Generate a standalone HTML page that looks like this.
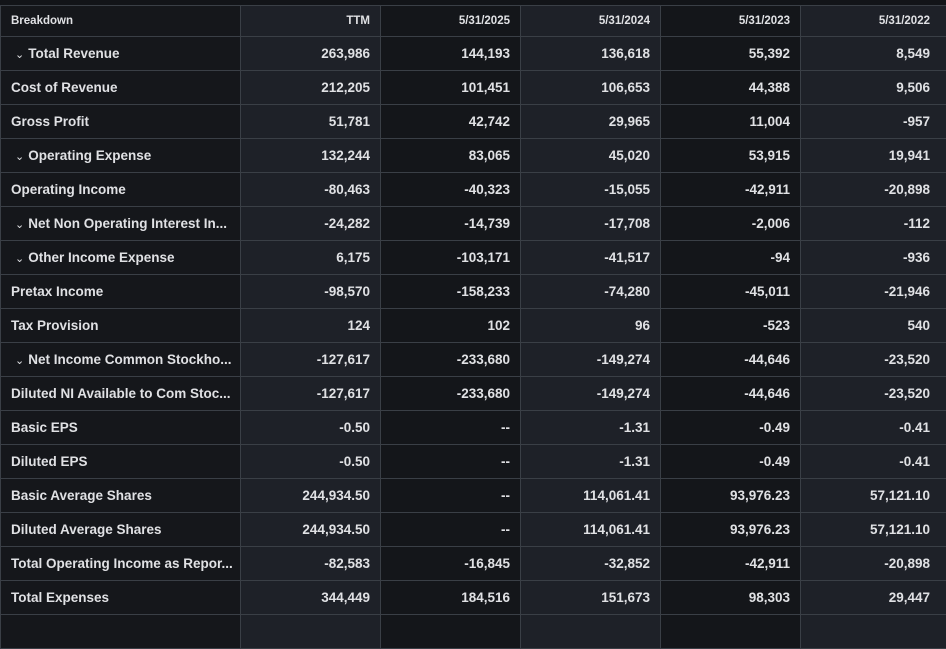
<!DOCTYPE html>
<html><head><meta charset="utf-8"><style>
html,body{margin:0;padding:0;background:#121418;width:946px;height:621px;overflow:hidden}
table{position:absolute;left:0;top:5px;border-collapse:collapse;table-layout:fixed;width:960px;font-family:"Liberation Sans",sans-serif;font-size:13.5px;color:#e0e1e4;font-weight:bold}
td{height:33px;padding:0 10px;border:1px solid #3a3f46;text-align:right;white-space:nowrap;overflow:hidden}
tr:first-child td{height:30px;font-size:11.5px}
td:nth-child(1){text-align:left;background:#15171b}
td:nth-child(2),td:nth-child(4),td:nth-child(6){background:#1e2128}
td:nth-child(3),td:nth-child(5){background:#14161a}
td:first-child{border-left:1px solid #3a3f46}
.c{font-weight:normal;font-size:11px;margin-left:4px;margin-right:4px}
</style></head><body>
<table>
<colgroup><col style="width:240px"><col style="width:140px"><col style="width:140px"><col style="width:140px"><col style="width:140px"><col style="width:160px"></colgroup>
<tr><td>Breakdown</td><td>TTM</td><td>5/31/2025</td><td>5/31/2024</td><td>5/31/2023</td><td style="padding-right:30px">5/31/2022</td></tr>
<tr><td><span class="c">⌄</span>Total Revenue</td><td>263,986</td><td>144,193</td><td>136,618</td><td>55,392</td><td style="padding-right:30px">8,549</td></tr>
<tr><td>Cost of Revenue</td><td>212,205</td><td>101,451</td><td>106,653</td><td>44,388</td><td style="padding-right:30px">9,506</td></tr>
<tr><td>Gross Profit</td><td>51,781</td><td>42,742</td><td>29,965</td><td>11,004</td><td style="padding-right:30px">-957</td></tr>
<tr><td><span class="c">⌄</span>Operating Expense</td><td>132,244</td><td>83,065</td><td>45,020</td><td>53,915</td><td style="padding-right:30px">19,941</td></tr>
<tr><td>Operating Income</td><td>-80,463</td><td>-40,323</td><td>-15,055</td><td>-42,911</td><td style="padding-right:30px">-20,898</td></tr>
<tr><td><span class="c">⌄</span>Net Non Operating Interest In...</td><td>-24,282</td><td>-14,739</td><td>-17,708</td><td>-2,006</td><td style="padding-right:30px">-112</td></tr>
<tr><td><span class="c">⌄</span>Other Income Expense</td><td>6,175</td><td>-103,171</td><td>-41,517</td><td>-94</td><td style="padding-right:30px">-936</td></tr>
<tr><td>Pretax Income</td><td>-98,570</td><td>-158,233</td><td>-74,280</td><td>-45,011</td><td style="padding-right:30px">-21,946</td></tr>
<tr><td>Tax Provision</td><td>124</td><td>102</td><td>96</td><td>-523</td><td style="padding-right:30px">540</td></tr>
<tr><td><span class="c">⌄</span>Net Income Common Stockho...</td><td>-127,617</td><td>-233,680</td><td>-149,274</td><td>-44,646</td><td style="padding-right:30px">-23,520</td></tr>
<tr><td>Diluted NI Available to Com Stoc...</td><td>-127,617</td><td>-233,680</td><td>-149,274</td><td>-44,646</td><td style="padding-right:30px">-23,520</td></tr>
<tr><td>Basic EPS</td><td>-0.50</td><td>--</td><td>-1.31</td><td>-0.49</td><td style="padding-right:30px">-0.41</td></tr>
<tr><td>Diluted EPS</td><td>-0.50</td><td>--</td><td>-1.31</td><td>-0.49</td><td style="padding-right:30px">-0.41</td></tr>
<tr><td>Basic Average Shares</td><td>244,934.50</td><td>--</td><td>114,061.41</td><td>93,976.23</td><td style="padding-right:30px">57,121.10</td></tr>
<tr><td>Diluted Average Shares</td><td>244,934.50</td><td>--</td><td>114,061.41</td><td>93,976.23</td><td style="padding-right:30px">57,121.10</td></tr>
<tr><td>Total Operating Income as Repor...</td><td>-82,583</td><td>-16,845</td><td>-32,852</td><td>-42,911</td><td style="padding-right:30px">-20,898</td></tr>
<tr><td>Total Expenses</td><td>344,449</td><td>184,516</td><td>151,673</td><td>98,303</td><td style="padding-right:30px">29,447</td></tr>
<tr><td></td><td></td><td></td><td></td><td></td><td></td></tr>
</table>
</body></html>
